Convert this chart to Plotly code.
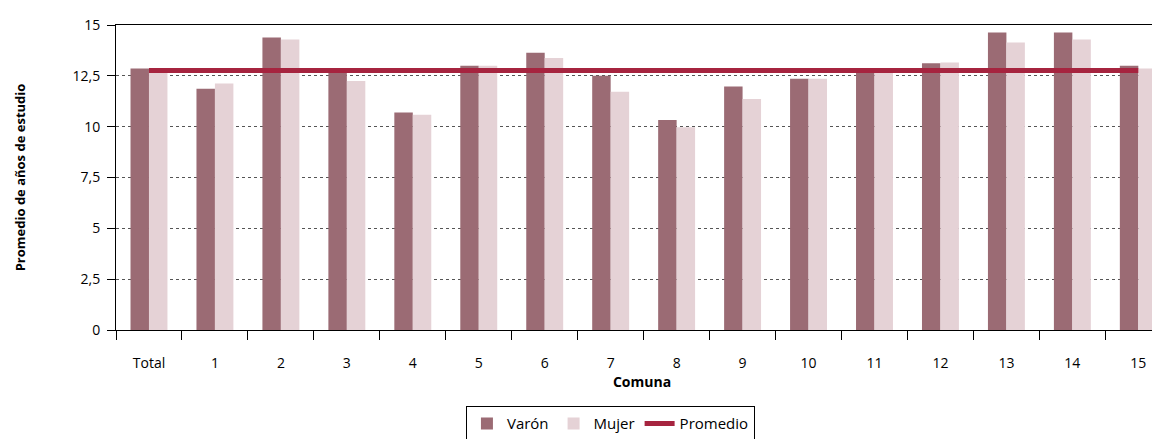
import plotly.graph_objects as go

categorias = ["Total", "1", "2", "3", "4", "5", "6", "7", "8", "9", "10", "11", "12", "13", "14", "15"]
varon = [12.86, 11.86, 14.38, 12.7, 10.7, 13.0, 13.63, 12.5, 10.33, 11.97, 12.36, 12.75, 13.12, 14.63, 14.63, 13.0]
mujer = [12.75, 12.12, 14.29, 12.25, 10.59, 13.0, 13.38, 11.72, 9.97, 11.36, 12.36, 12.72, 13.15, 14.14, 14.29, 12.86]
promedio = 12.76
promedio_serie = [promedio] * len(categorias)

y_ticks = [0, 2.5, 5, 7.5, 10, 12.5, 15]

FONT = "Open Sans"

fig = go.Figure()
fig.add_trace(go.Bar(x=categorias, y=varon, name="Varón",
                     marker=dict(color="#9B6B74", line=dict(width=0))))
fig.add_trace(go.Bar(x=categorias, y=mujer, name="Mujer",
                     marker=dict(color="#E5D2D6", line=dict(width=0))))
fig.add_trace(go.Scatter(x=categorias, y=promedio_serie, name="Promedio", mode="lines",
                         line=dict(color="#A6243F", width=5)))

fig.update_layout(
    width=1160, height=439,
    margin=dict(l=108, r=0, t=17, b=117),
    paper_bgcolor="white", plot_bgcolor="white",
    separators=",.",
    barmode="group", bargap=0.44, bargroupgap=0,
    font=dict(family=FONT, size=13, color="#000000"),
    showlegend=True,
    legend=dict(orientation="h", x=0.47, xanchor="center", y=-0.25, yanchor="top",
                bordercolor="#000000", borderwidth=1, font=dict(size=15),
                traceorder="normal", itemwidth=30),
)
fig.update_xaxes(
    type="category", range=[-0.5, 15.45],
    showline=True, linecolor="#000000", linewidth=1, mirror=True,
    ticks="outside", tickson="boundaries", ticklen=9, tickcolor="#000000",
    showgrid=False, tickfont=dict(size=14), ticklabelstandoff=20,
    title=dict(text="<b>Comuna</b>", font=dict(size=14), standoff=5),
)
fig.update_yaxes(
    range=[0, 15], tickvals=y_ticks,
    showline=True, linecolor="#000000", linewidth=1,
    ticks="outside", ticklen=8, tickcolor="#000000",
    showgrid=True, gridcolor="#555555", griddash="dot", gridwidth=1,
    zeroline=False, tickfont=dict(size=14), ticklabelstandoff=4,
    title=dict(text="<b>Promedio de años de estudio</b>", font=dict(size=13), standoff=44),
)

fig.write_html("out.html")
